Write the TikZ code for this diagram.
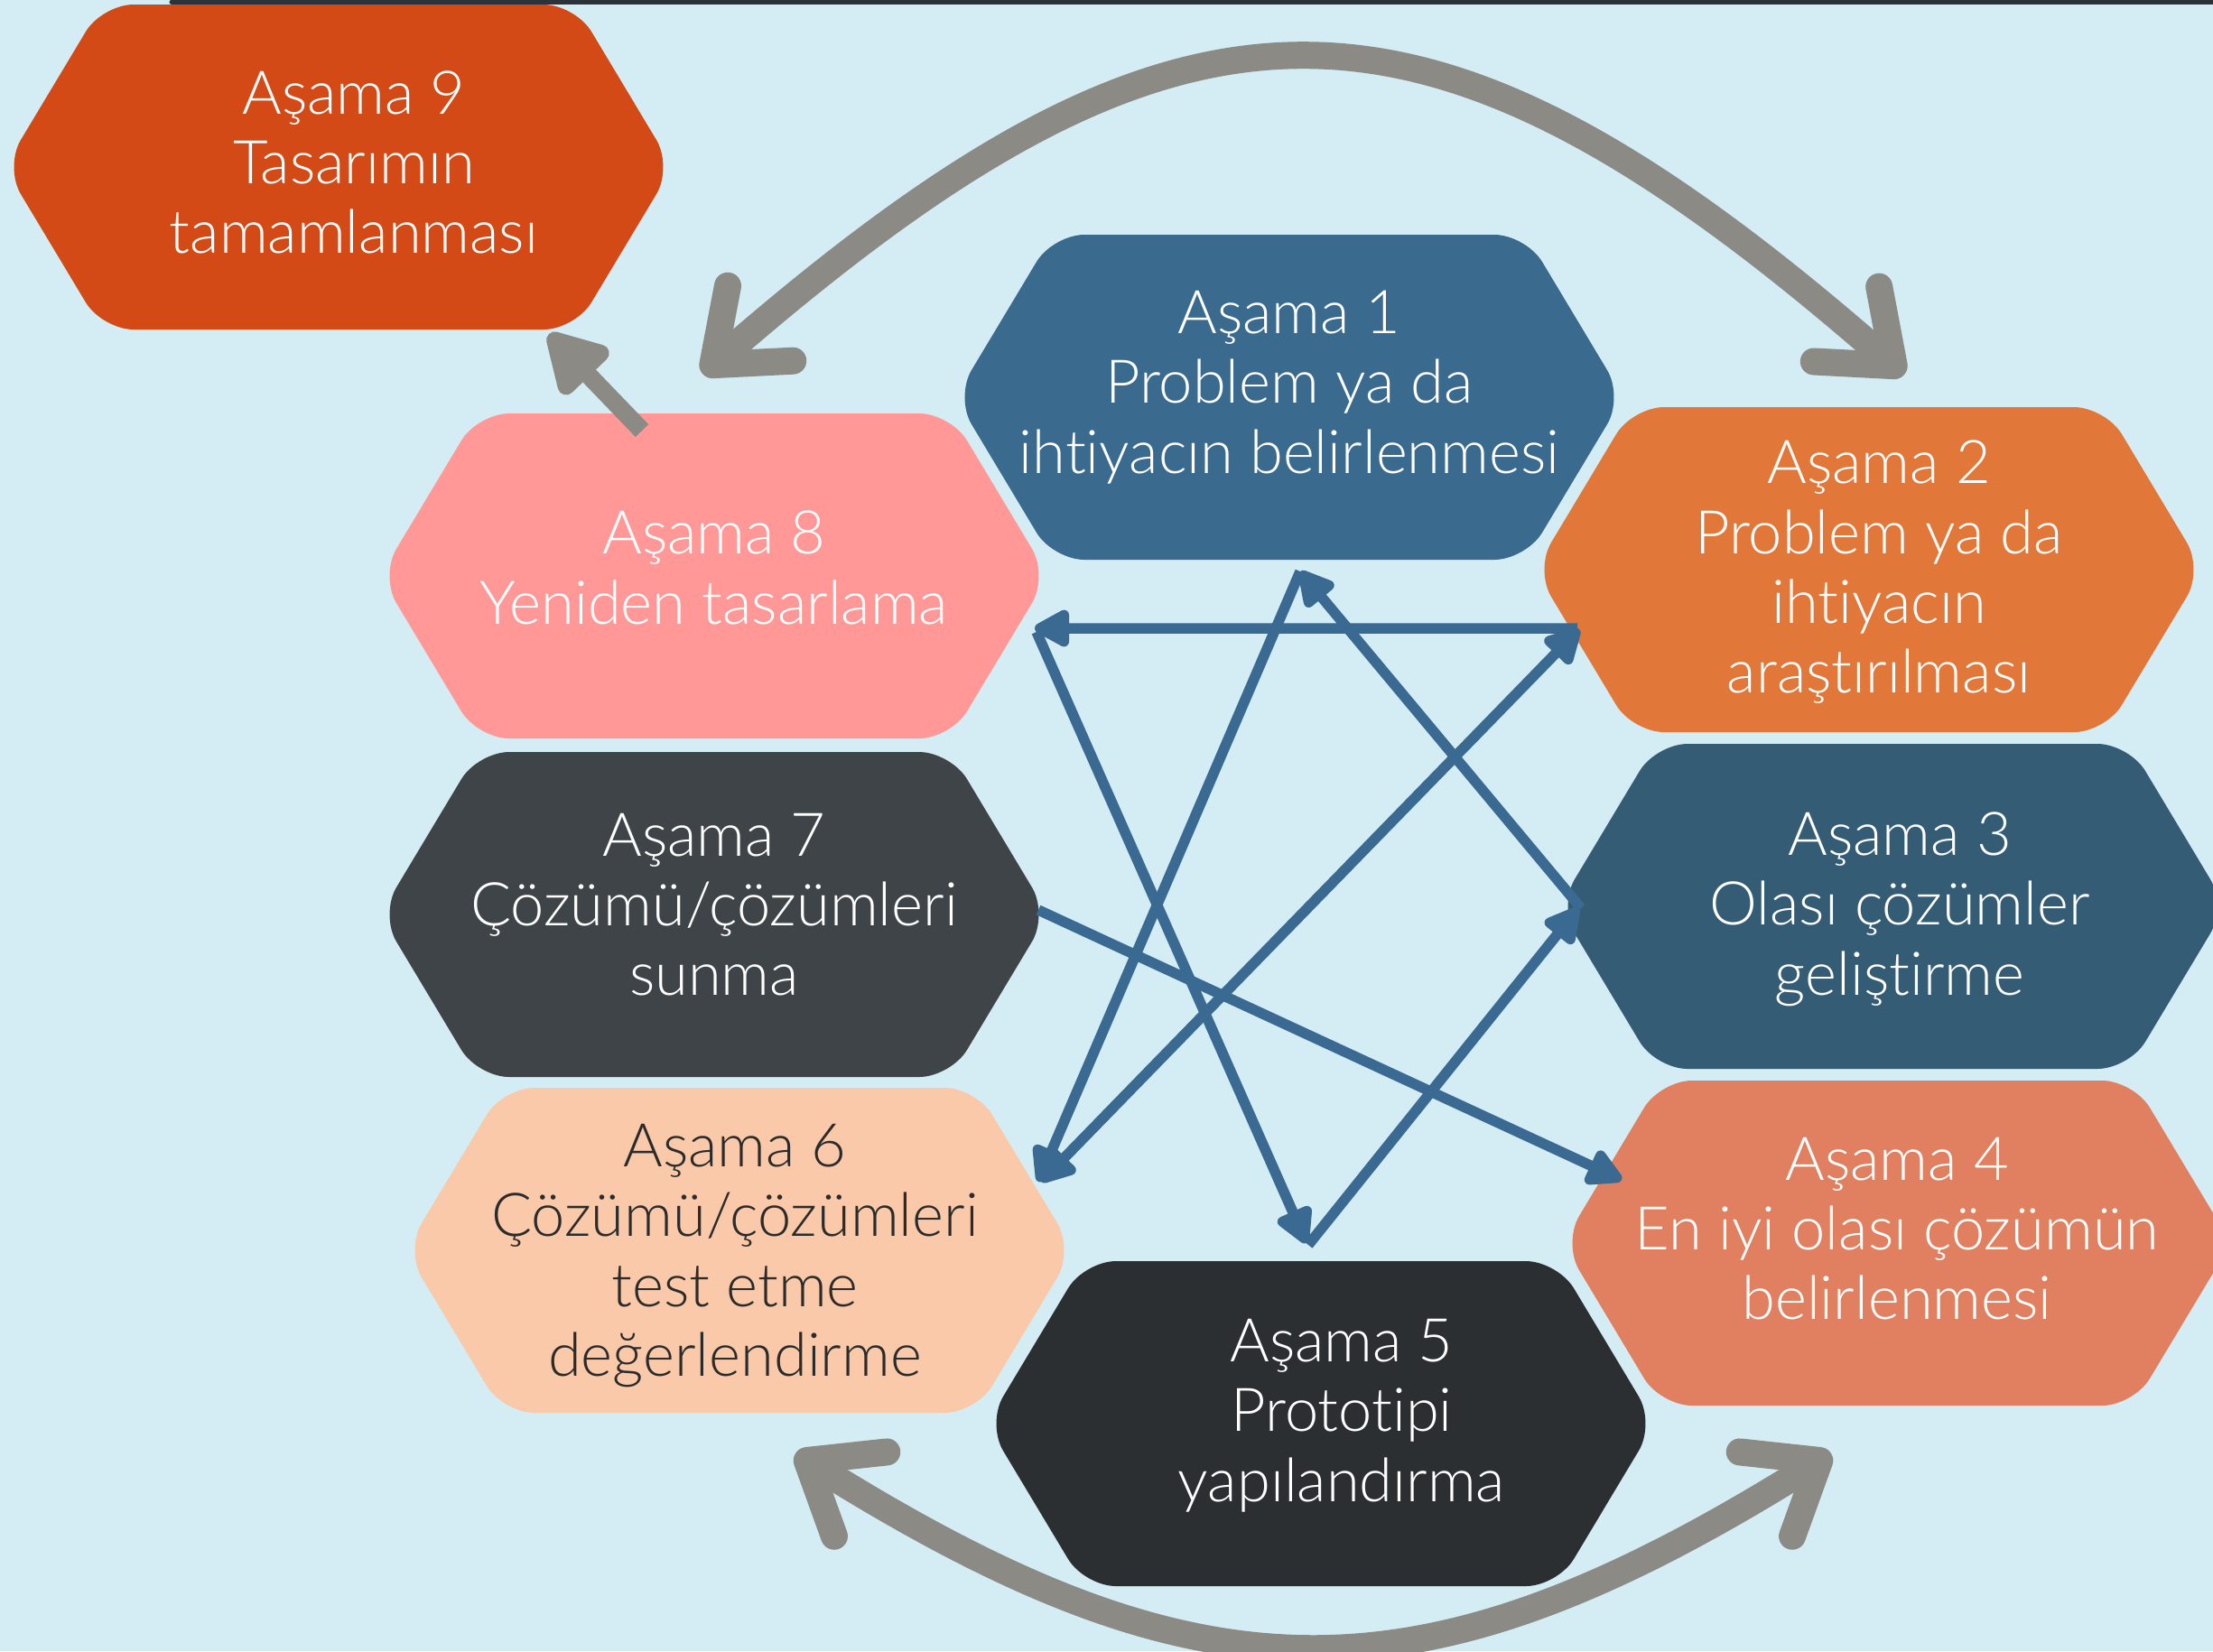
\documentclass[tikz,border=0pt]{standalone}
\usepackage{fontspec}
\setmainfont{Lato Light}[Ligatures=NoCommon]
\usepackage{tikz}
\usetikzlibrary{arrows.meta,positioning}

\definecolor{bgblue}{HTML}{D4ECF3}
\definecolor{topdark}{HTML}{2C3338}
\definecolor{redorange}{HTML}{D44A17}
\definecolor{steelblue}{HTML}{3B6A8F}
\definecolor{pinkish}{HTML}{FF9896}
\definecolor{orangeish}{HTML}{E2773A}
\definecolor{slategray}{HTML}{3E4447}
\definecolor{tealblue}{HTML}{345C74}
\definecolor{peach}{HTML}{F9C9A9}
\definecolor{salmon}{HTML}{E08060}
\definecolor{nearblack}{HTML}{2B2F32}
\definecolor{darktext}{HTML}{2B2B2B}
\definecolor{linkblue}{HTML}{3A6A91}
\definecolor{loopgray}{HTML}{8B8A84}

\tikzset{
    stage/.style={
           minimum width=7.3cm,
           minimum height=3.6cm,
           inner sep=0pt
           },
    words/.style={
           align=center,
           text=white,
           inner sep=0pt,
           font=\fontsize{19}{22}\selectfont
           },
    link/.style={
           draw=linkblue,
           line width=0.115cm,
           -{Triangle[length=0.45cm,width=0.45cm,round]}
           },
    twolink/.style={
           link,
           {Triangle[length=0.45cm,width=0.45cm,round]}-{Triangle[length=0.45cm,width=0.45cm,round]}
           },
    loop/.style={
           draw=loopgray,
           line width=0.3cm,
           {Straight Barb[length=0.7cm,width=1.1cm,round]}-{Straight Barb[length=0.7cm,width=1.1cm,round]}
           },
    back/.style={
           draw=loopgray,
           line width=0.2cm,
           -{Triangle[length=0.75cm,width=0.8cm,round]}
           }
}

% hexagon: text shift, name, centre, colour, text
\newcommand{\hexa}[5][]{%
  \fill[#4, rounded corners=0.35cm] (#3) ++(0,1.8) -- ++(2.62,0) -- ++(1.08,-1.8)
     -- ++(-1.08,-1.8) -- ++(-5.24,0) -- ++(-1.08,1.8) -- ++(1.08,1.8) -- cycle;
  \node[stage, label={[words,#1]center:{#5}}] (#2) at (#3) {};
}

\begin{document}
\begin{tikzpicture}[line join=round]
   \useasboundingbox (0,0) rectangle (24.51,-18.29);
   \clip (0,0) rectangle (24.51,-18.29);
   \fill[bgblue] (0,0) rectangle (24.51,-18.29);
   \draw[topdark, line width=0.05cm, line cap=round] (1.9,-0.02) -- (24.6,-0.02);

   \hexa[xshift=0.17cm,yshift=0.05cm]{h9}{3.75,-1.85}{redorange}{Aşama 9\\Tasarımın\\tamamlanması}
   \hexa[yshift=0.11cm]{h1}{14.28,-4.40}{steelblue}{Aşama 1\\Problem ya da\\ihtiyacın belirlenmesi}
   \hexa[yshift=0.09cm]{h8}{7.91,-6.38}{pinkish}{Aşama 8\\Yeniden tasarlama}
   \hexa[xshift=0.11cm,yshift=-0.03cm]{h2}{20.70,-6.31}{orangeish}{Aşama 2\\Problem ya da\\ihtiyacın\\araştırılması}
   \hexa[yshift=0.11cm]{h7}{7.91,-10.13}{slategray}{Aşama 7\\Çözümü/çözümleri\\sunma}
   \hexa[xshift=0.08cm,yshift=-0.03cm]{h3}{20.96,-10.04}{tealblue}{Aşama 3\\Olası çözümler\\geliştirme}
   \hexa[text=darktext,xshift=-0.05cm,yshift=-0.06cm]{h6}{8.19,-13.85}{peach}{Aşama 6\\Çözümü/çözümleri\\test etme\\değerlendirme}
   \hexa[yshift=0.16cm]{h4}{21.01,-13.77}{salmon}{Aşama 4\\En iyi olası çözümün\\belirlenmesi}
   \hexa[xshift=0.23cm,yshift=0.09cm]{h5}{14.63,-15.77}{nearblack}{Aşama 5\\Prototipi\\yapılandırma}

   \path
    ([shift={(-3.23,-0.65)}]h2.center) edge[link]    ([shift={(3.55,-0.58)}]h8.center)
    ([shift={(3.57,-0.62)}]h8.center)  edge[link]    ([shift={(-0.16,2.00)}]h5.center)
    ([shift={(-0.14,1.98)}]h5.center)  edge[link]    ([shift={(-3.48,-0.02)}]h3.center)
    ([shift={(-3.45,-0.02)}]h3.center) edge[link]    ([shift={(0.12,-1.93)}]h1.center)
    ([shift={(0.12,-1.93)}]h1.center)  edge[link]    ([shift={(3.31,0.76)}]h6.center)
    ([shift={(3.34,0.76)}]h6.center)   edge[twolink] ([shift={(-3.21,-0.66)}]h2.center)
    ([shift={(3.59,0.05)}]h7.center)   edge[link]    ([shift={(-3.05,0.70)}]h4.center)
    ;

   \draw[loop] ([shift={(-0.13,2.24)}]h8.center) .. controls (13.11,0.50) and (15.77,0.50) .. ([shift={(0.39,2.16)}]h2.center);
   \draw[loop] ([shift={(0.62,-2.25)}]h6.center) .. controls (13.34,-18.93) and (15.75,-18.93) .. ([shift={(-0.73,-2.33)}]h4.center);
   \draw[back] ([shift={(-0.80,1.61)}]h8.center) -- ([shift={(2.33,-1.85)}]h9.center);
\end{tikzpicture}
\end{document}
